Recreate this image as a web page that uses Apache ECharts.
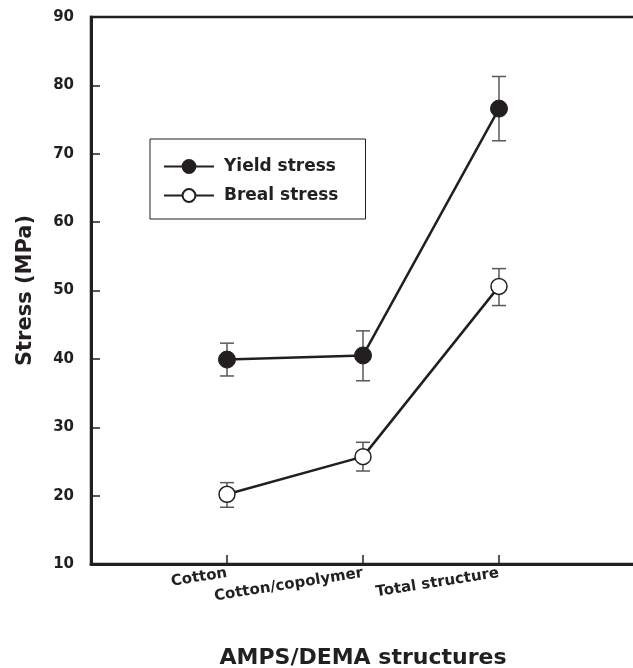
<!DOCTYPE html>
<html>
<head>
<meta charset="utf-8">
<script src="https://cdn.jsdelivr.net/npm/echarts@6/dist/echarts.min.js"></script>
<style>
  html, body { margin: 0; padding: 0; background: #fff; }
  #chart { width: 633px; height: 668px; }
</style>
</head>
<body>
<div id="chart"></div>
<script>
// Tensile results for the three AMPS/DEMA structures
const categories = ['Cotton', 'Cotton/copolymer', 'Total structure'];
const yieldStress = [39.9, 40.5, 76.6];
const yieldLow    = [37.5, 36.8, 71.9];
const yieldHigh   = [42.3, 44.1, 81.3];
const breakStress = [20.2, 25.7, 50.6];
const breakLow    = [18.3, 23.6, 47.8];
const breakHigh   = [21.9, 27.8, 53.2];
const yTicks = { min: 10, max: 90, interval: 10 };

const ink = '#231f20';
const barInk = '#5a5758';
const font = '"DejaVu Sans", Verdana, sans-serif';

// category i sits at x = i + 1 on a 0..4 scale
const pts = vals => vals.map((v, i) => [i + 1, v]);
const bars = (lo, hi) => lo.map((v, i) => [i + 1, v, hi[i]]);

function errorBar(params, api) {
  const x = api.value(0);
  const lo = api.coord([x, api.value(1)]);
  const hi = api.coord([x, api.value(2)]);
  const cap = 7;
  const style = { stroke: barInk, lineWidth: 1.5 };
  return {
    type: 'group',
    children: [
      { type: 'line', shape: { x1: lo[0], y1: lo[1], x2: hi[0], y2: hi[1] }, style },
      { type: 'line', shape: { x1: lo[0] - cap, y1: lo[1], x2: lo[0] + cap, y2: lo[1] }, style },
      { type: 'line', shape: { x1: hi[0] - cap, y1: hi[1], x2: hi[0] + cap, y2: hi[1] }, style }
    ]
  };
}

const chart = echarts.init(document.getElementById('chart'), null, { renderer: 'canvas' });
chart.setOption({
  backgroundColor: '#fff',
  animation: false,
  grid: {
    left: 91, top: 17, width: 544, height: 547,
    outerBoundsMode: 'none', containLabel: false,
    show: true, borderColor: ink, borderWidth: 2.5, backgroundColor: 'transparent'
  },
  legend: {
    orient: 'vertical', left: 150, top: 139,
    padding: [19, 27, 15, 13],
    itemWidth: 50, itemHeight: 16, itemGap: 12,
    borderColor: ink, borderWidth: 1,
    textStyle: { fontFamily: font, fontWeight: 'bold', fontSize: 17, color: ink, padding: [0, 0, 0, 5] },
    data: ['Yield stress', 'Breal stress']
  },
  xAxis: {
    type: 'value', min: 0, max: 4, interval: 1,
    name: 'AMPS/DEMA structures', nameLocation: 'middle', nameGap: 83,
    nameTextStyle: { fontFamily: font, fontWeight: 'bold', fontSize: 22, color: ink },
    splitLine: { show: false },
    axisLine: { lineStyle: { color: ink, width: 3 } },
    axisTick: { inside: true, length: 9, lineStyle: { color: ink, width: 1.5 } },
    axisLabel: {
      rotate: 9, margin: 9,
      fontFamily: font, fontWeight: 'bold', fontSize: 15, color: ink,
      formatter: v => categories[v - 1] || ''
    }
  },
  yAxis: {
    type: 'value', min: yTicks.min, max: yTicks.max, interval: yTicks.interval,
    name: 'Stress (MPa)', nameLocation: 'middle', nameGap: 55,
    nameTextStyle: { fontFamily: font, fontWeight: 'bold', fontSize: 21, color: ink },
    splitLine: { show: false },
    axisLine: { lineStyle: { color: ink, width: 3 } },
    axisTick: { inside: true, length: 9, lineStyle: { color: ink, width: 1.5 } },
    axisLabel: { margin: 17, fontFamily: font, fontWeight: 'bold', fontSize: 15, color: ink }
  },
  series: [
    { type: 'custom', name: 'yieldErr', renderItem: errorBar, data: bars(yieldLow, yieldHigh), z: 1, silent: true },
    { type: 'custom', name: 'breakErr', renderItem: errorBar, data: bars(breakLow, breakHigh), z: 1, silent: true },
    {
      type: 'line', name: 'Yield stress', data: pts(yieldStress), z: 3,
      symbol: 'circle', symbolSize: 17,
      lineStyle: { color: ink, width: 2.5 },
      itemStyle: { color: ink, borderColor: ink, borderWidth: 1 }
    },
    {
      type: 'line', name: 'Breal stress', data: pts(breakStress), z: 3,
      symbol: 'circle', symbolSize: 16,
      lineStyle: { color: ink, width: 2.5 },
      itemStyle: { color: '#fff', borderColor: ink, borderWidth: 1.5 }
    }
  ]
});
</script>
</body>
</html>
